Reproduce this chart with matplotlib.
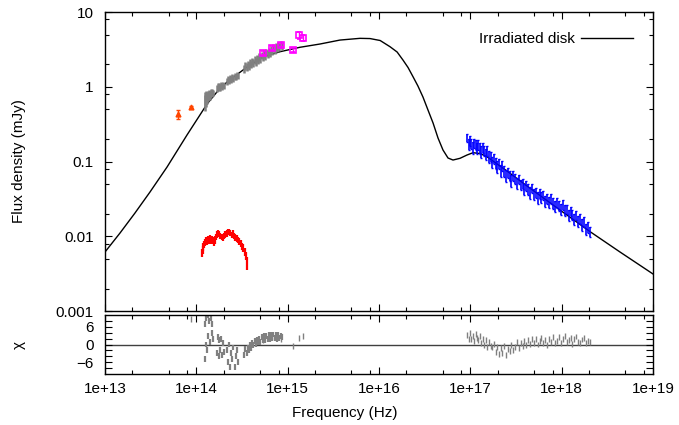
import numpy as np
import matplotlib
matplotlib.use("Agg")
import matplotlib.pyplot as plt
from matplotlib.ticker import LogLocator, NullFormatter, FixedLocator

plt.rcParams['font.family'] = ['Liberation Sans', 'DejaVu Sans']
plt.rcParams['font.size'] = 11

# ---------------------------------------------------------------------
# model: irradiated disk
model_nu = np.array([1.00e13, 1.46e13, 2.13e13, 3.11e13, 4.78e13, 7.91e13, 1.31e14,
                     1.68e14, 2.17e14, 3.59e14, 5.37e14, 8.24e14, 1.36e15, 2.26e15,
                     3.74e15, 6.19e15, 7.98e15, 1.03e16, 1.32e16, 1.58e16, 1.83e16,
                     2.08e16, 2.36e16, 2.67e16, 3.03e16, 3.44e16, 3.91e16, 4.43e16,
                     5.02e16, 5.70e16, 6.46e16, 7.71e16, 9.20e16, 1.07e17, 1.28e17,
                     1.52e17, 2.52e17, 4.18e17, 9.59e17, 2.05e18, 4.36e18, 1.00e19])
model_flux = np.array([0.00615, 0.01104, 0.02046, 0.03908, 0.08433, 0.2265, 0.5875,
                       0.8511, 1.159, 1.837, 2.500, 2.944, 3.373, 3.733,
                       4.217, 4.446, 4.416, 4.159, 3.436, 2.917, 2.280,
                       1.811, 1.361, 1.023, 0.7295, 0.4887, 0.3273, 0.2061,
                       0.1426, 0.1114, 0.1047, 0.1104, 0.1222, 0.1312, 0.1279,
                       0.1159, 0.07464, 0.04699, 0.02244, 0.01151, 0.00615, 0.00313])

# NIR/optical spectrum (grey), nu in 1e14 Hz, flux in mJy
nir_nu = np.array([1.23, 1.25, 1.27, 1.29, 1.31, 1.33, 1.35, 1.38, 1.41, 1.44, 1.47, 1.50, 1.53,
                   1.67, 1.71, 1.75, 1.79, 1.83, 1.87, 1.91, 1.95, 1.99,
                   2.18, 2.24, 2.30, 2.36, 2.42, 2.48, 2.55, 2.62, 2.69, 2.77, 2.85,
                   3.35, 3.45, 3.55, 3.65, 3.76, 3.87, 3.98, 4.10, 4.22, 4.35, 4.48,
                   4.61, 4.75, 4.89, 5.04, 5.19, 5.35, 5.51, 5.68, 5.85, 6.03, 6.21,
                   6.40, 6.59, 6.79, 7.00, 7.21, 7.43, 7.65, 7.88, 8.12, 8.36, 8.61])
nir_flux = np.array([0.62, 0.70, 0.66, 0.74, 0.71, 0.78, 0.75, 0.80, 0.77, 0.84, 0.81, 0.86, 0.83,
                     0.95, 1.01, 0.97, 1.03, 0.99, 1.05, 1.01, 1.07, 1.03,
                     1.18, 1.25, 1.21, 1.29, 1.25, 1.33, 1.30, 1.38, 1.35, 1.44, 1.41,
                     1.74, 1.92, 1.83, 2.01, 1.91, 2.10, 2.00, 2.19, 2.08, 2.30, 2.18,
                     2.40, 2.28, 2.52, 2.39, 2.64, 2.50, 2.76, 2.61, 2.88, 2.73, 3.01,
                     2.86, 3.14, 2.99, 3.31, 3.15, 3.45, 3.28, 3.59, 3.41, 3.73, 3.55])
nir_err = np.array([0.15, 0.14, 0.13, 0.13, 0.12, 0.11, 0.11, 0.10, 0.10, 0.09, 0.09, 0.08, 0.08,
                    0.10, 0.10, 0.10, 0.10, 0.10, 0.10, 0.10, 0.10, 0.10,
                    0.13, 0.13, 0.13, 0.13, 0.13, 0.13, 0.13, 0.13, 0.13, 0.13, 0.13,
                    0.21, 0.22, 0.22, 0.23, 0.23, 0.24, 0.24, 0.25, 0.25, 0.26, 0.27,
                    0.28, 0.28, 0.29, 0.29, 0.30, 0.31, 0.32, 0.32, 0.33, 0.33, 0.34,
                    0.35, 0.36, 0.36, 0.37, 0.38, 0.39, 0.39, 0.40, 0.41, 0.42, 0.43])
nir_chi = np.array([-5, 7, 0, 9, -2, 10, 3, 8, 1, 9, 4, 7, 2,
                    -3, 2.5, -4, 1.5, -2, 2, -3.5, 0.5, -2.5,
                    -2, -6, 0, -7.5, -3, -5, -1, -7.5, -4, -2, -6,
                    -3.5, -1.5, -3.0, -1.0, -2.0, 0.0, -1.2, 0.5, -0.3, 1.2, 0.2,
                    1.6, 0.8, 2.0, 1.0, 2.5, 1.4, 2.8, 1.6, 3.0, 1.8, 3.2,
                    2.0, 3.3, 2.1, 3.4, 2.2, 3.3, 2.0, 3.2, 2.2, 3.0, 2.4])

# optical spectrum (red), nu in 1e14 Hz
opt_nu = np.array([1.15, 1.17, 1.19, 1.22, 1.25, 1.28, 1.31, 1.34, 1.37, 1.40, 1.44, 1.48,
                   1.52, 1.56, 1.60, 1.64, 1.69, 1.74, 1.79, 1.84, 1.90, 1.96, 2.02, 2.08,
                   2.15, 2.22, 2.29, 2.36, 2.44, 2.52, 2.60, 2.68, 2.77, 2.86, 2.96, 3.06,
                   3.16, 3.27, 3.38, 3.50, 3.62])
opt_flux = np.array([0.0060, 0.0066, 0.0072, 0.0078, 0.0083, 0.0088, 0.0086, 0.0092, 0.0090,
                     0.0094, 0.0087, 0.0091, 0.0089, 0.0084, 0.0090, 0.0098, 0.0106, 0.0112,
                     0.0108, 0.0102, 0.0098, 0.0096, 0.0101, 0.0107, 0.0110, 0.0114, 0.0116,
                     0.0111, 0.0105, 0.0109, 0.0101, 0.0097, 0.0093, 0.0090, 0.0085, 0.0080,
                     0.0074, 0.0070, 0.0062, 0.0055, 0.0044])
opt_err = np.array([0.0008, 0.0008, 0.0009, 0.0009, 0.0009, 0.0010, 0.0010, 0.0010, 0.0010,
                    0.0010, 0.0009, 0.0010, 0.0010, 0.0009, 0.0010, 0.0010, 0.0011, 0.0011,
                    0.0011, 0.0010, 0.0010, 0.0010, 0.0010, 0.0011, 0.0011, 0.0011, 0.0011,
                    0.0011, 0.0010, 0.0011, 0.0010, 0.0010, 0.0010, 0.0009, 0.0009, 0.0009,
                    0.0008, 0.0008, 0.0008, 0.0007, 0.0009])

# photometry
ir_nu = np.array([6.3e13, 8.8e13])
ir_flux = np.array([0.43, 0.535])
ir_err = np.array([0.06, 0.02])

uv_nu = np.array([5.43e14, 6.82e14, 8.45e14, 1.14e15, 1.33e15, 1.46e15])
uv_flux = np.array([2.80, 3.33, 3.62, 3.08, 4.87, 4.53])
uv_err = np.array([0.17, 0.20, 0.22, 0.18, 0.50, 0.45])

phot_nu = np.array([6.3e13, 8.8e13, 5.43e14, 6.82e14, 8.45e14, 1.14e15, 1.33e15, 1.46e15])
phot_chi = np.array([14, 8.5, 1.5, 2.5, 2.0, -0.4, 2.3, 2.8])

# X-ray spectrum (blue), nu in 1e17 Hz
xr_nu = np.array([0.93, 0.96, 0.99, 1.02, 1.06, 1.10, 1.14, 1.18, 1.22, 1.27,
                  1.32, 1.37, 1.42, 1.48, 1.54, 1.60, 1.67, 1.74, 1.81, 1.89,
                  1.97, 2.06, 2.15, 2.25, 2.35, 2.46, 2.57, 2.69, 2.82, 2.95,
                  3.09, 3.24, 3.40, 3.56, 3.73, 3.91, 4.10, 4.30, 4.51, 4.73,
                  4.96, 5.20, 5.46, 5.73, 6.01, 6.31, 6.62, 6.95, 7.30, 7.66,
                  8.04, 8.44, 8.86, 9.30, 9.77, 10.3, 10.8, 11.3, 11.9, 12.5,
                  13.1, 13.8, 14.5, 15.2, 16.0, 16.8, 17.6, 18.5, 19.4, 20.4])
xr_flux = np.array([0.208, 0.171, 0.189, 0.173, 0.154, 0.177, 0.167, 0.151, 0.168, 0.151,
                    0.135, 0.153, 0.140, 0.125, 0.140, 0.117, 0.118, 0.098, 0.110, 0.096,
                    0.086, 0.093, 0.077, 0.088, 0.074, 0.066, 0.072, 0.065, 0.056, 0.065,
                    0.059, 0.052, 0.058, 0.049, 0.051, 0.043, 0.048, 0.043, 0.0385, 0.044,
                    0.037, 0.0388, 0.0329, 0.0375, 0.0334, 0.0355, 0.0295, 0.0323, 0.0287, 0.0319,
                    0.0281, 0.0255, 0.0284, 0.0259, 0.0233, 0.0263, 0.0223, 0.0231, 0.0193, 0.0216,
                    0.0194, 0.0172, 0.0193, 0.0161, 0.0170, 0.0144, 0.0157, 0.0126, 0.0133, 0.0116])
xr_err = np.array([0.028, 0.028, 0.028, 0.027, 0.027, 0.026, 0.026, 0.025, 0.025, 0.025,
                   0.024, 0.023, 0.022, 0.021, 0.020, 0.020, 0.018, 0.017, 0.016, 0.016,
                   0.015, 0.014, 0.014, 0.013, 0.012, 0.012, 0.011, 0.010, 0.010, 0.010,
                   0.009, 0.009, 0.0085, 0.008, 0.008, 0.0075, 0.0072, 0.0069, 0.0066, 0.0064,
                   0.0062, 0.0060, 0.0058, 0.0056, 0.0054, 0.0052, 0.0051, 0.0050, 0.0048, 0.0047,
                   0.0046, 0.0044, 0.0043, 0.0041, 0.0040, 0.0039, 0.0037, 0.0035, 0.0034, 0.0032,
                   0.0031, 0.0029, 0.0028, 0.0027, 0.0026, 0.0025, 0.0024, 0.0022, 0.0021, 0.0019])
xr_chi = np.array([3.2, 1.8, 3.9, 2.0, 2.8, 1.2, 3.5, 2.2, 1.5, 3.0,
                   0.5, 1.8, -0.3, 1.4, -0.8, 0.9, -0.5,
                   -1.0, 0.2, -2.5, -0.8, -3.2, -1.2, -2.8, -0.5, -3.5, -1.5, -2.2, -0.3, -1.8,
                   -0.8, 0.8, -1.2, 0.5, -0.5, 1.2, -0.2,
                   1.5, 0.2, 1.8, 0.5, 2.0, 0.0, 1.2, 2.2, 0.4, 1.6, -0.2, 1.9, 0.8, 2.4, 0.6,
                   1.2, 2.6, 0.5, 1.8, 2.9, 0.8, 1.5, 2.3, 0.2, 1.9, 2.7, 1.0, 0.4, 1.7, 2.2,
                   0.6, 1.3, 0.9])

decades = [1e13, 1e14, 1e15, 1e16, 1e17, 1e18, 1e19]
decade_labels = ['1e+13', '1e+14', '1e+15', '1e+16', '1e+17', '1e+18', '1e+19']

# ---------------------------------------------------------------------
fig = plt.figure(figsize=(6.79, 4.25), dpi=100)
ax = fig.add_axes([0.1546, 0.2682, 0.8071, 0.7035])
res = fig.add_axes([0.1546, 0.12, 0.8071, 0.1388])

grey = '#808080'

ax.plot(model_nu, model_flux, color='k', lw=1.0, zorder=2, label='Irradiated disk')
ax.errorbar(nir_nu * 1e14, nir_flux, yerr=nir_err, fmt='none', ecolor=grey,
            elinewidth=1.8, capsize=0, zorder=3)
ax.errorbar(opt_nu * 1e14, opt_flux, yerr=opt_err, fmt='none', ecolor='#ff0000',
            elinewidth=1.6, capsize=0, zorder=3)
ax.errorbar(xr_nu * 1e17, xr_flux, yerr=xr_err, fmt='none', ecolor='#0000ff',
            elinewidth=1.2, capsize=1, zorder=3)
ax.errorbar(ir_nu, ir_flux, yerr=ir_err, fmt='^', color='#ff4500', ms=3.5,
            elinewidth=1, capsize=1.5, zorder=4)
ax.errorbar(uv_nu, uv_flux, yerr=uv_err, fmt='s', color='#ff00ff', mfc='none', ms=4,
            mew=1.2, elinewidth=1, capsize=1.5, zorder=4)

for a in (ax, res):
    a.set_xscale('log')
    a.set_xlim(1e13, 1e19)
    a.xaxis.set_major_locator(FixedLocator(decades))
    a.xaxis.set_minor_locator(LogLocator(base=10, subs=[2, 5, 8]))
    a.xaxis.set_minor_formatter(NullFormatter())
    a.tick_params(which='both', direction='in', top=True, right=True, width=0.8)
    a.tick_params(which='major', length=5)
    a.tick_params(which='minor', length=3)
    for s in a.spines.values():
        s.set_linewidth(1.0)

ax.set_yscale('log')
ax.set_ylim(1e-3, 10)
ax.set_yticks([1e-3, 1e-2, 1e-1, 1, 10])
ax.set_yticklabels(['0.001', '0.01', '0.1', '1', '10'])
ax.yaxis.set_minor_locator(LogLocator(base=10, subs=[2, 5, 8]))
ax.yaxis.set_minor_formatter(NullFormatter())
ax.tick_params(axis='x', labelbottom=False)
ax.tick_params(axis='y', pad=8)
ax.set_ylabel('Flux density (mJy)')
ax.yaxis.set_label_coords(-0.145, 0.5)

ax.legend(loc='upper right', frameon=False, markerfirst=False, handlelength=3.4,
          handletextpad=0.4, borderaxespad=0.9)

# residuals
res.axhline(0, color='#404040', lw=1.0, zorder=1)
res.errorbar(nir_nu * 1e14, nir_chi, yerr=1, fmt='none', ecolor=grey,
             elinewidth=1.6, capsize=0, zorder=2)
res.errorbar(xr_nu * 1e17, xr_chi, yerr=1, fmt='none', ecolor=grey,
             elinewidth=1.0, capsize=0, zorder=2)
res.errorbar(phot_nu, phot_chi, yerr=1, fmt='none', ecolor=grey,
             elinewidth=1.0, capsize=0, zorder=2)
res.set_ylim(-10, 10)
res.set_yticks([-6, 0, 6])
res.yaxis.set_minor_locator(FixedLocator([-8, -4, -2, 2, 4, 8]))
res.tick_params(which='minor', axis='y', length=5)
res.tick_params(axis='y', pad=8)
res.tick_params(axis='x', pad=6)
res.set_xticklabels(decade_labels)
res.set_ylabel('χ')
res.yaxis.set_label_coords(-0.145, 0.5)

fig.text(345 / 679, 1 - 413 / 425, 'Frequency (Hz)', ha='center', va='center')

fig.savefig('out.png', dpi=100)
